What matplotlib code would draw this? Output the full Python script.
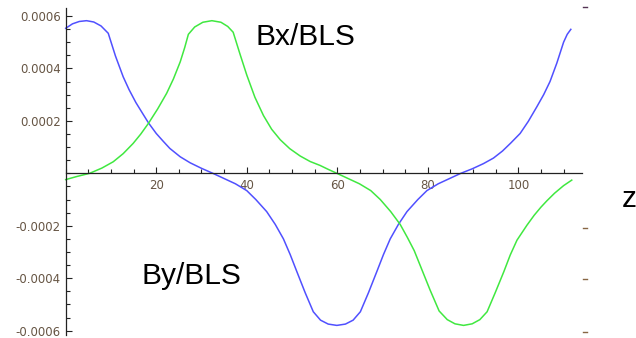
import matplotlib
matplotlib.use('Agg')
import matplotlib.pyplot as plt
from matplotlib.ticker import MultipleLocator, FixedLocator
from matplotlib.lines import Line2D

plt.rcParams['axes.unicode_minus'] = False

# ---- data (values in units of 1e-4) ----
blue_z = [0, 1.5, 3, 4.6, 6.2, 7.8, 9.4, 11, 12.7, 14, 15.5, 17, 18.3, 20, 21.5, 23,
          25.3, 27.5, 30, 32.5, 35, 37.5, 40, 42, 44.4, 46.3, 48.1, 49.6, 51, 52.9,
          54.7, 56.3, 58, 59.9, 61.8, 63.5, 65.1, 66.9, 68.8, 70.2, 71.7, 73.5, 75.4,
          77.8, 79.8, 82.3, 84.8, 87.3, 89.8, 92.3, 94.5, 96.5, 98.3, 100.4, 102.2,
          104.1, 105.6, 107, 108.5, 110, 110.8, 111.6]
blue_by_e4 = [5.53, 5.70, 5.79, 5.82, 5.77, 5.62, 5.34, 4.47, 3.68, 3.19, 2.70, 2.28,
              1.92, 1.52, 1.23, 0.95, 0.63, 0.40, 0.19, 0.0, -0.20, -0.40, -0.66,
              -1.00, -1.46, -1.95, -2.50, -3.10, -3.72, -4.55, -5.28, -5.60, -5.75,
              -5.80, -5.75, -5.60, -5.28, -4.55, -3.72, -3.10, -2.50, -1.95, -1.46,
              -1.00, -0.66, -0.40, -0.20, 0.0, 0.17, 0.37, 0.58, 0.85, 1.15, 1.52,
              1.98, 2.54, 3.00, 3.50, 4.20, 5.00, 5.30, 5.49]

green_z = [0, 2.5, 5.3, 8, 10.5, 12.7, 14.9, 16.6, 18.3, 20.3, 22.3, 23.8, 25.3, 26.3,
           27.1, 28.5, 30.3, 32.3, 34.3, 35.8, 37, 38.5, 40, 41.8, 43.7, 45.5, 47.4,
           49.5, 51.8, 54, 56.2, 58, 59.9, 62.4, 64.9, 67.4, 69.5, 71.8, 73.9, 75.5,
           77, 78.4, 80.5, 82.5, 84.3, 86, 87.9, 89.8, 91.5, 93.1, 94.9, 96.8, 98.2,
           99.7, 101.9, 103.5, 105, 106.3, 108, 110, 111.8]
green_bx_e4 = [-0.24, -0.12, 0.0, 0.20, 0.44, 0.75, 1.14, 1.50, 1.91, 2.45, 3.05, 3.60,
               4.25, 4.80, 5.30, 5.58, 5.76, 5.82, 5.76, 5.60, 5.38, 4.55, 3.75, 2.90,
               2.20, 1.68, 1.28, 0.94, 0.66, 0.45, 0.30, 0.15, 0.0, -0.20, -0.40,
               -0.66, -1.00, -1.46, -1.95, -2.45, -2.95, -3.55, -4.45, -5.25, -5.58,
               -5.74, -5.80, -5.74, -5.58, -5.28, -4.55, -3.75, -3.12, -2.55, -1.98,
               -1.60, -1.29, -1.05, -0.76, -0.47, -0.26]

xtick_vals = [20, 40, 60, 80, 100]
xtick_labels = ['20', '40', '60', '80', '100']
ytick_vals = [-0.0006, -0.0004, -0.0002, 0.0002, 0.0004, 0.0006]
ytick_labels = ['-0.0006', '-0.0004', '-0.0002', '0.0002', '0.0004', '0.0006']

blue_by = [v * 1e-4 for v in blue_by_e4]
green_bx = [v * 1e-4 for v in green_bx_e4]

# ---- figure ----
W, H = 636, 338
fig = plt.figure(figsize=(W / 100, H / 100), dpi=100)
ax = fig.add_axes([65.7 / W, (H - 335.1) / H, 516 / W, 327 / H])
ax.set_xlim(0, 114.0)
ax.set_ylim(-0.000617, 0.00063)

ax.plot(blue_z, blue_by, color='#5050ff', lw=1.1, clip_on=False, solid_joinstyle='round')
ax.plot(green_z, green_bx, color='#40e840', lw=1.1, clip_on=False, solid_joinstyle='round')

for s in ('top', 'right'):
    ax.spines[s].set_visible(False)
ax.spines['bottom'].set_position(('data', 0))
ax.spines['left'].set_position(('data', 0))
for s in ('bottom', 'left'):
    ax.spines[s].set_linewidth(0.9)
    ax.spines[s].set_color('#222222')

ax.xaxis.set_major_locator(FixedLocator(xtick_vals))
ax.set_xticklabels(xtick_labels)
ax.xaxis.set_minor_locator(MultipleLocator(5))
ax.yaxis.set_major_locator(FixedLocator(ytick_vals))
ax.set_yticklabels(ytick_labels)
ax.yaxis.set_minor_locator(MultipleLocator(0.00005))

lab_col = '#665544'
ax.tick_params(which='both', direction='in', color='#222222', width=0.8,
               labelcolor=lab_col, labelsize=8.5)
ax.tick_params(which='major', length=4.6)
ax.tick_params(which='minor', length=3.0)
ax.tick_params(axis='x', which='major', pad=4.4)
ax.tick_params(axis='y', which='major', pad=3.6)

ax.patch.set_visible(False)

txt_kw = dict(fontsize=21.5, family='Liberation Sans', va='baseline', ha='left', color='black')
fig.text(255 / W, 1 - 45 / H, 'Bx/BLS', **txt_kw)
fig.text(141.7 / W, 1 - 284.3 / H, 'By/BLS', **txt_kw)
fig.text(621.7 / W, 1 - 206.7 / H, 'z', **txt_kw)

# small stray marks on the right edge of the original
for yy, col in [(6.7, '#553355'), (228.3, '#886644'), (279.3, '#886644'), (332.3, '#886644')]:
    fig.add_artist(Line2D([583 / W, 587 / W], [1 - yy / H] * 2, color=col, lw=1.0))

fig.savefig('out.png', dpi=100)
